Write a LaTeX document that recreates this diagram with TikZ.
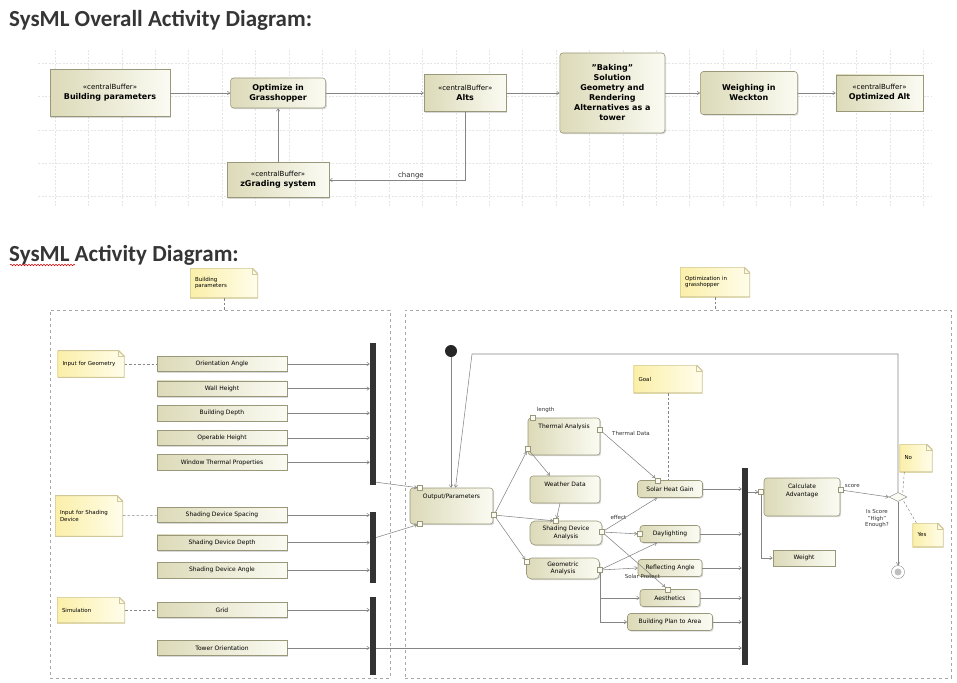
\documentclass[tikz,border=0pt]{standalone}
\usepackage{fontspec}
\setmainfont{DejaVu Sans}
\newfontfamily\titlefont{Carlito}
\usetikzlibrary{shapes.geometric, arrows.meta, positioning, calc, shadows, decorations.pathmorphing}

\definecolor{actlight}{HTML}{FBFBF3}
\definecolor{actdark}{HTML}{DCDAB8}
\definecolor{actline}{HTML}{9A987A}
\definecolor{notelight}{HTML}{FFFDEB}
\definecolor{notedark}{HTML}{FBEFA8}
\definecolor{noteline}{HTML}{CFC79A}
\definecolor{edgegray}{HTML}{858585}
\definecolor{framegray}{HTML}{A8A8A8}
\definecolor{titlegray}{HTML}{353535}

\tikzset{
    title/.style={
        font=\titlefont\bfseries\fontsize{23}{26}\selectfont,
        text=titlegray,
        inner sep=0pt
    },
    action/.style={
        rectangle,
        rounded corners=3pt,
        draw=actline,
        line width=0.6pt,
        left color=actdark,
        right color=actlight,
        align=center,
        inner sep=1pt,
        font=\fontsize{6}{7.5}\selectfont,
        drop shadow={shadow xshift=1.2pt, shadow yshift=-1.2pt, opacity=0.3}
    },
    buffer/.style={
        action,
        rounded corners=0pt
    },
    topnode/.style={
        font=\fontsize{8}{10}\selectfont\bfseries
    },
    item/.style={
        buffer,
        minimum width=130pt,
        minimum height=15.5pt
    },
    note/.style={
        rectangle,
        draw=none,
        left color=notedark,
        right color=notelight,
        align=left,
        inner sep=2pt,
        font=\fontsize{5.5}{6.5}\selectfont,
        path picture={
            \fill[white] ([xshift=-6pt]path picture bounding box.north east) -- (path picture bounding box.north east) -- ([yshift=-6pt]path picture bounding box.north east) -- cycle;
            \draw[noteline, line width=1.2pt] (path picture bounding box.south west) -- (path picture bounding box.north west) -- ([xshift=-6pt]path picture bounding box.north east) -- ([yshift=-6pt]path picture bounding box.north east) -- (path picture bounding box.south east) -- cycle;
            \draw[noteline, line width=0.6pt] ([xshift=-6pt]path picture bounding box.north east) -- ([xshift=-6pt,yshift=-6pt]path picture bounding box.north east) -- ([yshift=-6pt]path picture bounding box.north east);
        }
    },
    partframe/.style={
        rectangle,
        draw=framegray,
        dash pattern=on 3pt off 3pt,
        line width=0.9pt,
        inner sep=0pt
    },
    joinbar/.style={
        rectangle,
        fill=black!80,
        minimum width=6pt,
        inner sep=0pt
    },
    pinbox/.style={
        rectangle,
        draw=actline,
        fill=actlight,
        line width=0.4pt,
        minimum size=5pt,
        inner sep=0pt
    },
    initnode/.style={
        circle,
        fill=black!85,
        minimum size=12pt,
        inner sep=0pt
    },
    finalnode/.style={
        circle,
        draw=edgegray,
        fill=white,
        minimum size=13pt,
        inner sep=0pt,
        path picture={\fill[black!25] (path picture bounding box.center) circle (3.5pt);}
    },
    decision/.style={
        diamond,
        aspect=2,
        draw=edgegray,
        fill=actlight,
        minimum width=18pt,
        minimum height=9pt,
        inner sep=0pt
    },
    edgelabel/.style={
        font=\fontsize{5.5}{6.5}\selectfont,
        text=black!80,
        inner sep=1pt
    },
    gridline/.style={draw=black!10, line width=0.4pt, dash pattern=on 2pt off 1.5pt},
    flow/.style={draw=edgegray, line width=0.55pt, -{Straight Barb[length=2.5pt, width=3.5pt]}},
    anchorline/.style={draw=edgegray, line width=0.5pt, dash pattern=on 2.5pt off 2pt}
}

\begin{document}
\begin{tikzpicture}[x=1pt, y=-1pt]
    \useasboundingbox (0,0) rectangle (957,682);

    % overall diagram
    \draw[gridline, shift={(55,63)}] (-17,-13) grid[xstep=33.4pt, ystep=33.4pt] (876,143);
    \node[title, anchor=base west] (toptitle) at (9,27) {SysML Overall Activity Diagram:};

    \node[buffer, topnode, minimum width=120pt, minimum height=47pt] (bparam) at (110,93) {{\fontsize{7}{8}\selectfont\mdseries «centralBuffer»}\\Building parameters};
    \node[action, topnode, minimum width=95pt, minimum height=30pt, right=60pt of bparam] (optgh) {Optimize in\\Grasshopper};
    \node[buffer, topnode, minimum width=82pt, minimum height=37pt, right=98pt of optgh] (alts) {{\fontsize{7}{8}\selectfont\mdseries «centralBuffer»}\\Alts};
    \node[action, topnode, minimum width=105pt, minimum height=80pt, right=53pt of alts] (baking) {"Baking"\\Solution\\Geometry and\\Rendering\\Alternatives as a\\tower};
    \node[action, topnode, minimum width=97pt, minimum height=43pt, right=35pt of baking] (weigh) {Weighing in\\Weckton};
    \node[buffer, topnode, minimum width=87pt, minimum height=36pt, right=38pt of weigh] (optalt) {{\fontsize{7}{8}\selectfont\mdseries «centralBuffer»}\\Optimized Alt};
    \node[buffer, topnode, minimum width=102pt, minimum height=35pt, below=54pt of optgh] (zgrade) {{\fontsize{7}{8}\selectfont\mdseries «centralBuffer»}\\zGrading system};

    \draw[flow] (bparam) -- (optgh);
    \draw[flow] (optgh) -- (alts);
    \draw[flow] (alts) -- (baking);
    \draw[flow] (baking) -- (weigh);
    \draw[flow] (weigh) -- (optalt);
    \draw[flow] (alts.south) |- node[edgelabel, pos=0.7, above, font=\fontsize{7}{8}\selectfont] {change} (zgrade.east);
    \draw[flow] (zgrade) -- (optgh);

    % activity diagram
    \node[title, anchor=base west] (bottitle) at (9,261) {SysML Activity Diagram:};
    \draw[red!85!black, line width=0.5pt, decorate, decoration={snake, amplitude=0.8pt, segment length=3pt}] ([xshift=1pt, yshift=-4pt]bottitle.base west) -- ([xshift=66pt, yshift=-4pt]bottitle.base west);

    \node[partframe, minimum width=340pt, minimum height=368pt] (geomframe) at (220,494) {};
    \node[partframe, minimum width=546pt, minimum height=368pt] (optframe) at (678,494) {};

    \node[note, minimum width=68pt, minimum height=30pt, text width=58pt] (bpnote) at (224,283) {Building\\parameters};
    \node[note, minimum width=70pt, minimum height=30pt, text width=60pt] (optnote) at (715,282) {Optimization in\\grasshopper};
    \draw[anchorline] (bpnote.south) -- (bpnote.south |- geomframe.north);
    \draw[anchorline] (optnote.south) -- (optnote.south |- optframe.north);

    % inputs
    \node[note, minimum width=67pt, minimum height=27pt, text width=57pt] (geomnote) at (91,364) {Input for Geometry};
    \node[item] (orient) at (222,364) {Orientation Angle};
    \node[item, below=8.5pt of orient] (wheight) {Wall Height};
    \node[item, below=8.5pt of wheight] (bdepth) {Building Depth};
    \node[item, below=8.5pt of bdepth] (opheight) {Operable Height};
    \node[item, below=8.5pt of opheight] (wtherm) {Window Thermal Properties};

    \node[note, minimum width=68pt, minimum height=41pt, text width=58pt] (shadenote) at (89,516) {Input for Shading\\Device\\[10pt]};
    \node[item] (sspace) at (222,515) {Shading Device Spacing};
    \node[item, below=11.5pt of sspace] (sdepth) {Shading Device Depth};
    \node[item, below=11.5pt of sdepth] (sangle) {Shading Device Angle};

    \node[note, minimum width=68pt, minimum height=26pt, text width=58pt] (simnote) at (91,610) {Simulation};
    \node[item] (simgrid) at (222,610) {Grid};
    \node[item] (torient) at (222,648) {Tower Orientation};

    \draw[anchorline] (geomnote) -- (orient);
    \draw[anchorline] (shadenote) -- (sspace);
    \draw[anchorline] (simnote) -- (simgrid);

    \node[joinbar, minimum height=142pt] (geombar) at (373,414) {};
    \node[joinbar, minimum height=71pt] (shadebar) at (373,547.5) {};
    \node[joinbar, minimum height=78pt] (simbar) at (373,636) {};

    \draw[flow] (orient) -- (orient -| geombar.west);
    \draw[flow] (wheight) -- (wheight -| geombar.west);
    \draw[flow] (bdepth) -- (bdepth -| geombar.west);
    \draw[flow] (opheight) -- (opheight -| geombar.west);
    \draw[flow] (wtherm) -- (wtherm -| geombar.west);
    \draw[flow] (sspace) -- (sspace -| shadebar.west);
    \draw[flow] (sdepth) -- (sdepth -| shadebar.west);
    \draw[flow] (sangle) -- (sangle -| shadebar.west);
    \draw[flow] (simgrid) -- (simgrid -| simbar.west);
    \draw[flow] (torient) -- (torient -| simbar.west);

    % optimization
    \node[initnode] (start) at (451,351) {};
    \coordinate (loopturn) at (472,354);
    \node[action, minimum width=83pt, minimum height=36pt, text depth=20pt] (outparam) at (451.5,506) {Output/Parameters};
    \node[pinbox] (opin1) at (420,488) {};
    \node[pinbox] (opin2) at (420,524) {};
    \node[pinbox] (opout) at (494,515) {};

    \node[action, minimum width=72pt, minimum height=37pt, text depth=20pt] (thermal) at (564,436.5) {Thermal Analysis};
    \node[pinbox] (tain) at (533,418) {};
    \node[pinbox] (taleft) at (528,449) {};
    \node[pinbox] (taout) at (600,430) {};
    \node[edgelabel, above right=1pt and 0pt of tain] (lenlbl) {length};

    \node[action, minimum width=70pt, minimum height=27pt, text depth=10pt] (weather) at (565,489.5) {Weather Data};
    \node[action, rounded corners=5pt, minimum width=72pt, minimum height=24pt] (sda) at (566,533) {Shading Device\\Analysis};
    \node[pinbox] (sdain) at (556,521) {};
    \node[pinbox] (sdaout) at (602,532) {};
    \node[action, rounded corners=5pt, minimum width=73pt, minimum height=21pt] (geo) at (563,568.5) {Geometric\\Analysis};
    \node[pinbox] (geoin) at (527,562) {};
    \node[pinbox] (geoout) at (600,570) {};

    \node[note, minimum width=69pt, minimum height=28pt, text width=59pt] (goalnote) at (668,379) {Goal};
    \node[action, minimum width=65pt, minimum height=17pt] (solar) at (670,489) {Solar Heat Gain};
    \node[pinbox] (solarin) at (658,480.5) {};
    \node[action, minimum width=60pt, minimum height=17pt] (daylight) at (670,534) {Daylighting};
    \node[pinbox] (dlin) at (640,534) {};
    \node[action, minimum width=64pt, minimum height=17pt] (reflect) at (670,568) {Reflecting Angle};
    \node[action, minimum width=60pt, minimum height=17pt] (aesth) at (670,598) {Aesthetics};
    \node[pinbox] (aein) at (668,589.5) {};
    \node[action, minimum width=85pt, minimum height=17pt] (bplan) at (670,622) {Building Plan to Area};
    \draw[anchorline] (goalnote.south) -- (goalnote.south |- solar.north);

    \node[joinbar, minimum height=197pt] (resultbar) at (745,566.5) {};

    \node[action, minimum width=76pt, minimum height=38pt, text depth=14pt] (calcadv) at (802,497) {Calculate\\Advantage};
    \node[pinbox] (cain) at (761,492) {};
    \node[pinbox] (caout) at (841,490) {};
    \node[buffer, minimum width=62pt, minimum height=16pt] (weight) at (804,558) {Weight};
    \node[decision] (decide) at (898,497) {};
    \node[edgelabel, align=center] (guard) at (877,519) {Is Score\\"High"\\Enough?};
    \node[finalnode] (finish) at (898,572) {};
    \node[note, minimum width=33pt, minimum height=28pt, text width=23pt] (nonote) at (916,458) {No};
    \node[note, minimum width=31pt, minimum height=24pt, text width=21pt] (yesnote) at (928,535) {Yes};

    \draw[flow] (start) -- (start |- outparam.north);
    \draw[flow] (decide.north) -- (decide.north |- loopturn) -- (loopturn) -- ([xshift=4pt]outparam.north);
    \draw[flow] ([yshift=3pt]geombar.south east) -- (opin1);
    \draw[flow] ([yshift=10pt]shadebar.east) -- (opin2);
    \draw[flow] (simbar.east |- torient) -- (torient -| resultbar.west);

    \draw[flow] (opout) -- (taleft);
    \draw[flow] (opout) -- (sdain);
    \draw[flow] (opout) -- (geoin);
    \draw[flow] (taleft) -- ([xshift=-15pt]weather.north);
    \draw[flow] ([xshift=-5pt]weather.south) -- (sdain);
    \draw[flow] (taout) -- node[edgelabel, pos=0.1, anchor=south west, xshift=3pt] {Thermal Data} (solarin);
    \draw[flow] (sdaout) -- node[edgelabel, pos=0.3, above, xshift=-2pt] {effect} ([xshift=-13pt]solar.south);
    \draw[flow] (sdaout) -- (dlin);
    \draw[flow] (sdaout) -- node[edgelabel, pos=0.82, xshift=-12pt, yshift=1pt] {Solar Protect} (aein);
    \draw[flow] (geoout) -- ([xshift=-13pt]daylight.south);
    \draw[flow] (geoout) -- (reflect.west);
    \draw[flow] (geoout.south) |- (aesth.west);
    \draw[flow] (geoout.south) |- (bplan.west);

    \draw[flow] (solar) -- (solar -| resultbar.west);
    \draw[flow] (daylight) -- (daylight -| resultbar.west);
    \draw[flow] (reflect) -- (reflect -| resultbar.west);
    \draw[flow] (aesth) -- (aesth -| resultbar.west);
    \draw[flow] (bplan) -- (bplan -| resultbar.west);

    \draw[flow] (cain -| resultbar.east) -- (cain);
    \draw[flow] (cain.south) |- (weight.west);
    \draw[flow] (caout) -- node[edgelabel, pos=0, anchor=south west, yshift=2pt] {score} (decide.west);
    \draw[flow] (decide.south) -- (finish.north);
    \draw[anchorline] ([xshift=5pt]nonote.south west) -- (decide.north east);
    \draw[anchorline] ([xshift=4pt]yesnote.north west) -- (decide.south east);

\end{tikzpicture}
\end{document}
